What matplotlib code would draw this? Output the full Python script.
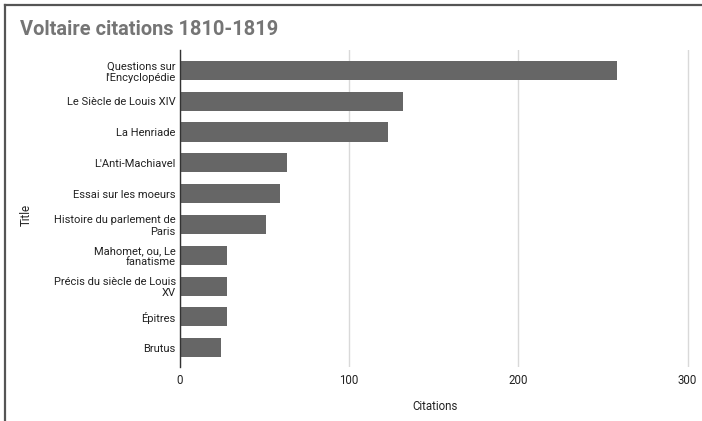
import matplotlib.pyplot as plt
from matplotlib.lines import Line2D

plt.rcParams['font.family'] = ['Roboto', 'DejaVu Sans']

titles = [
    "Questions sur\nl'Encyclopédie",
    "Le Siècle de Louis XIV",
    "La Henriade",
    "L'Anti-Machiavel",
    "Essai sur les moeurs",
    "Histoire du parlement de\nParis",
    "Mahomet, ou, Le\nfanatisme",
    "Précis du siècle de Louis\nXV",
    "Épitres",
    "Brutus",
]
citations = [258, 132, 123, 63, 59, 51, 28, 28, 28, 24]
xticks = [0, 100, 200, 300]

fig = plt.figure(figsize=(7.02, 4.21), dpi=100)
ax = fig.add_axes([0.2564, 0.128, 0.728, 0.753])

ypos = list(range(len(titles)))
ax.barh(ypos, citations, height=0.62, color="#666666", zorder=3)
ax.set_yticks(ypos)
ax.set_yticklabels(titles, fontsize=8, color="#222222", linespacing=1.15)
ax.set_ylim(9.63, -0.66)
ax.set_xlim(0, 302)
ax.set_xticks(xticks)
ax.set_xticklabels([str(t) for t in xticks], fontsize=8.3, color="#222222")
ax.grid(axis="x", color="#d9d9d9", linewidth=1, zorder=0)
ax.tick_params(axis="y", length=0, pad=3)
ax.tick_params(axis="x", length=0, pad=5)
for s in ["top", "right", "bottom"]:
    ax.spines[s].set_visible(False)
ax.spines["left"].set_color("#333333")
ax.spines["left"].set_linewidth(1)
ax.spines["left"].set_zorder(4)

ax.set_xlabel("Citations", fontsize=8.3, color="#222222", labelpad=9)
fig.text(0.037, 0.49, "Title", rotation=90, fontsize=8.3, color="#222222",
         ha="center", va="center")

fig.text(0.028, 0.93, "Voltaire citations 1810-1819", fontsize=14.4,
         fontweight="bold", color="#757575", ha="left", va="center")

# outer frame (top and left)
fig.add_artist(Line2D([0.0065, 1.0], [0.989, 0.989], transform=fig.transFigure,
                      color="#555555", linewidth=1.6))
fig.add_artist(Line2D([0.0065, 0.0065], [0.0, 0.989], transform=fig.transFigure,
                      color="#555555", linewidth=1.6))

fig.savefig("out.png", dpi=100)
